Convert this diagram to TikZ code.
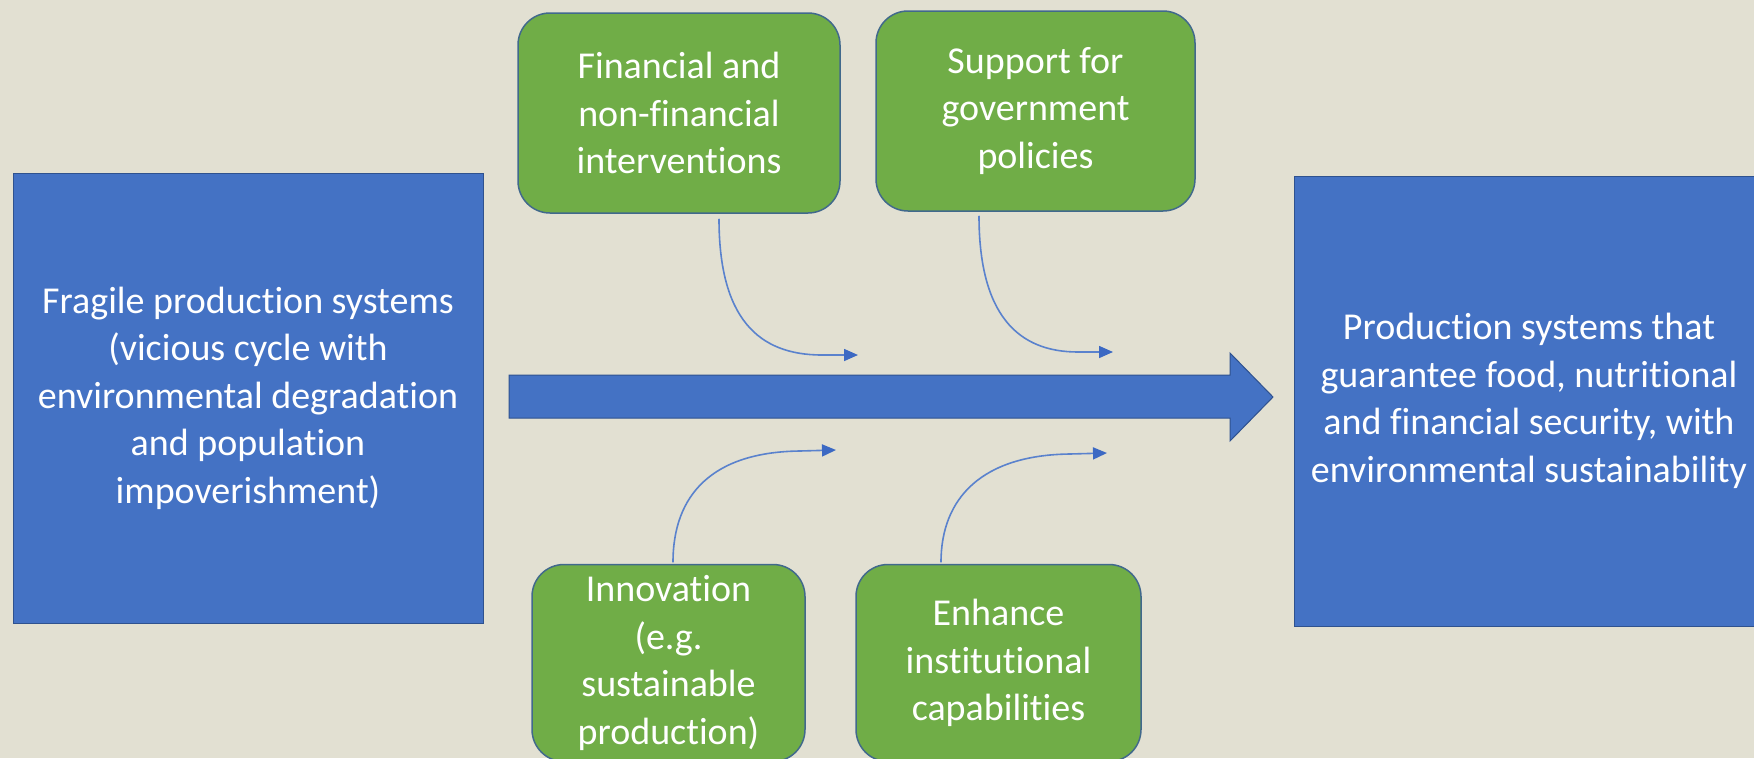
\documentclass[tikz,border=0pt]{standalone}
\usepackage{fontspec}
\setmainfont{Carlito}[Ligatures=NoCommon]
\usetikzlibrary{arrows.meta}
\definecolor{bgc}{RGB}{226,224,210}
\definecolor{bluefill}{RGB}{68,114,196}
\definecolor{blueline}{RGB}{47,82,143}
\definecolor{greenfill}{RGB}{112,173,71}
\definecolor{greenline}{RGB}{65,105,140}
\definecolor{thinarrow}{RGB}{90,130,205}
\definecolor{tipblue}{RGB}{60,105,195}
\tikzset{
  bluebox/.style={draw=blueline, line width=1pt, fill=bluefill, text=white,
    align=center, inner sep=0pt, font=\fontsize{38}{47.5}\selectfont},
  greenbox/.style={draw=greenline, line width=1.5pt, fill=greenfill, text=white,
    rounded corners=32pt, align=center, inner sep=0pt, font=\fontsize{38}{47.5}\selectfont},
  thinarr/.style={draw=thinarrow, line width=1.6pt,
    -{Triangle[length=14pt,width=12pt,color=tipblue]}},
}
\begin{document}
\begin{tikzpicture}[x=1pt,y=-1pt]
\useasboundingbox (0,0) rectangle (1754,758);
\fill[bgc] (0,0) rectangle (1754,758);
\clip (0,0) rectangle (1754,758);

\node[bluebox, minimum width=470pt, minimum height=450pt] (left) at (248,398)
  {Fragile production systems\\(vicious cycle with\\environmental degradation\\and population\\impoverishment)};
\node[bluebox, minimum width=470pt, minimum height=450pt] (right) at (1529,401)
  {Production systems that\\guarantee food, nutritional\\and financial security, with\\environmental sustainability};

\node[greenbox, minimum width=322pt, minimum height=200pt] (g1) at (679,113)
  {Financial and\\non-financial\\interventions};
\node[greenbox, minimum width=319pt, minimum height=200pt] (g2) at (1035.5,111)
  {Support for\\government\\policies};
\node[greenbox, minimum width=273pt, minimum height=197pt] (g3) at (668.5,663)
  {Innovation\\(e.g.\\sustainable\\production)};
\node[greenbox, minimum width=285pt, minimum height=197pt] (g4) at (998.5,663)
  {Enhance\\institutional\\capabilities};

% big arrow
\filldraw[fill=bluefill, draw=blueline, line width=1pt]
  (509,375) -- (1230,375) -- (1230,353) -- (1273,397) -- (1230,441) -- (1230,418) -- (509,418) -- cycle;

% thin curved arrows
\coordinate (a1s) at ([xshift=40pt,yshift=-5pt]g1.south);
\coordinate (a1e) at (858,355);
\draw[thinarr] (a1s) .. controls (719,318) and (758,355) .. (822,355) -- (a1e);

\coordinate (a2s) at ([xshift=-56.5pt,yshift=-4pt]g2.south);
\coordinate (a2e) at (1113,352);
\draw[thinarr] (a2s) .. controls (979,315) and (1018,352) .. (1078,352) -- (a2e);

\coordinate (a3s) at ([xshift=4.5pt,yshift=1.5pt]g3.north);
\coordinate (a3e) at (836,450);
\draw[thinarr] (a3s) .. controls (673,495) and (712,452) .. (800,451) -- (a3e);

\coordinate (a4s) at ([xshift=-57.5pt,yshift=1.5pt]g4.north);
\coordinate (a4e) at (1107,453);
\draw[thinarr] (a4s) .. controls (941,498) and (982,455) .. (1070,454) -- (a4e);
\end{tikzpicture}
\end{document}
